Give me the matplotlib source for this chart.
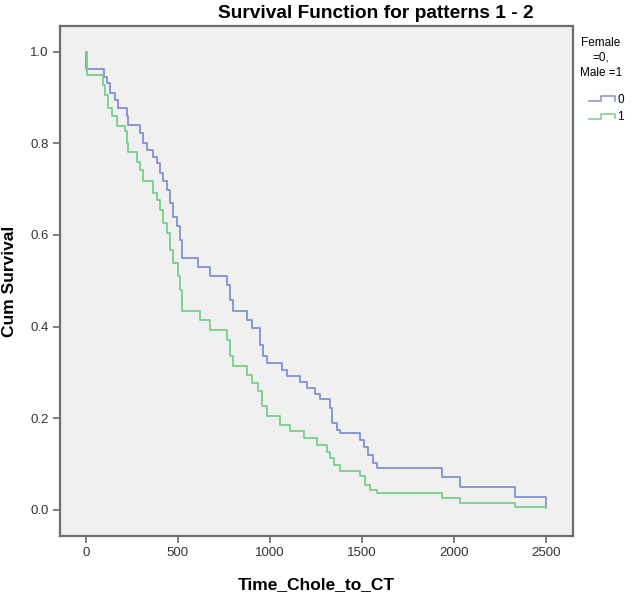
import matplotlib
matplotlib.use('Agg')
import matplotlib.pyplot as plt
from matplotlib.lines import Line2D
from matplotlib.legend_handler import HandlerBase

plt.rcParams['font.family'] = ['Liberation Sans', 'DejaVu Sans']

# Kaplan-Meier steps: (time of drop, survival after drop)
female_t = [0, 2, 100, 114, 132, 159, 177, 223, 232, 295, 313, 332, 366, 386,
            404, 422, 440, 459, 474, 495, 512, 522, 612, 676, 766, 784, 802,
            875, 902, 947, 965, 983, 1065, 1092, 1165, 1201, 1246, 1273, 1328,
            1337, 1364, 1382, 1491, 1510, 1536, 1563, 1582, 1937, 2035, 2333,
            2500]
female_s = [1.0, 0.962, 0.945, 0.932, 0.910, 0.895, 0.877, 0.859, 0.841, 0.822,
            0.800, 0.786, 0.771, 0.757, 0.735, 0.717, 0.699, 0.670, 0.640,
            0.619, 0.590, 0.549, 0.531, 0.511, 0.491, 0.459, 0.433, 0.415,
            0.397, 0.360, 0.335, 0.320, 0.306, 0.292, 0.278, 0.266, 0.253,
            0.242, 0.222, 0.189, 0.175, 0.167, 0.153, 0.138, 0.120, 0.102,
            0.091, 0.072, 0.050, 0.029, 0.004]

male_t = [0, 4, 96, 105, 123, 141, 168, 214, 223, 232, 277, 295, 313, 367, 386,
          404, 422, 440, 458, 476, 503, 512, 522, 621, 676, 766, 784, 802, 875,
          902, 937, 957, 984, 1056, 1110, 1183, 1255, 1310, 1328, 1346, 1382,
          1491, 1518, 1545, 1583, 1937, 2035, 2333, 2500]
male_s = [1.0, 0.948, 0.927, 0.906, 0.877, 0.859, 0.837, 0.826, 0.800, 0.782,
          0.760, 0.742, 0.717, 0.691, 0.677, 0.655, 0.626, 0.604, 0.568, 0.539,
          0.510, 0.480, 0.433, 0.415, 0.393, 0.371, 0.335, 0.313, 0.295, 0.277,
          0.260, 0.226, 0.204, 0.186, 0.173, 0.157, 0.142, 0.127, 0.113, 0.098,
          0.084, 0.073, 0.055, 0.044, 0.037, 0.026, 0.015, 0.007, 0.004]

group_labels = ['0', '1']
colors = ['#8290d2', '#74d08a']
x_ticks = [0, 500, 1000, 1500, 2000, 2500]
y_ticks = [0.0, 0.2, 0.4, 0.6, 0.8, 1.0]


class StepHandler(HandlerBase):
    # little step glyph like the SPSS legend
    def create_artists(self, legend, orig, xd, yd, w, h, fontsize, trans):
        xs = [xd, xd + 0.45 * w, xd + 0.45 * w, xd + w, xd + w]
        ys = [yd + 0.2 * h, yd + 0.2 * h, yd + 0.8 * h, yd + 0.8 * h, yd + 0.3 * h]
        ln = Line2D(xs, ys, color=orig.get_color(), linewidth=1.1, transform=trans)
        return [ln]


fig = plt.figure(figsize=(6.36, 5.95), dpi=100)
ax = fig.add_axes([60 / 636, 1 - 536 / 595, 513 / 636, 510 / 595])
ax.set_facecolor('#f0f0f0')

handles = []
for t, s, c, lab in zip([female_t, male_t], [female_s, male_s], colors, group_labels):
    h, = ax.step(t, s, where='post', color=c, linewidth=1.3, label=lab)
    handles.append(h)

ax.set_xlim(-140, 2647)
ax.set_ylim(-0.057, 1.056)
ax.set_xticks(x_ticks)
ax.set_xticklabels([str(v) for v in x_ticks])
ax.set_yticks(y_ticks)
ax.set_yticklabels([f'{v:.1f}' for v in y_ticks])
ax.tick_params(direction='out', length=5, width=1.2, color='#6a6a6a',
               labelsize=9.5, labelcolor='#333333', pad=3)
for sp in ax.spines.values():
    sp.set_color('#6e6e6e')
    sp.set_linewidth(1.6)

ax.set_xlabel('Time_Chole_to_CT', fontsize=12.5, fontweight='bold', labelpad=13)
ax.set_ylabel('Cum Survival', fontsize=12.5, fontweight='bold', labelpad=10)
fig.text(376 / 636, 1 - 13 / 595, 'Survival Function for patterns 1 - 2',
         ha='center', va='center', fontsize=13.8, fontweight='bold')

# legend title, centred lines as in SPSS
fig.text(601 / 636, 1 - 58 / 595, 'Female\n=0,\nMale =1', ha='center',
         va='center', multialignment='center', fontsize=8.5, linespacing=1.35)
fig.legend(handles=handles, labels=group_labels,
           handler_map={Line2D: StepHandler()}, fontsize=8.5,
           loc='upper left', bbox_to_anchor=(589 / 636, 1 - 94 / 595),
           frameon=False, handlelength=2.2, handletextpad=0.2,
           labelspacing=0.45, borderpad=0, borderaxespad=0)

fig.savefig('out.png', dpi=100)
